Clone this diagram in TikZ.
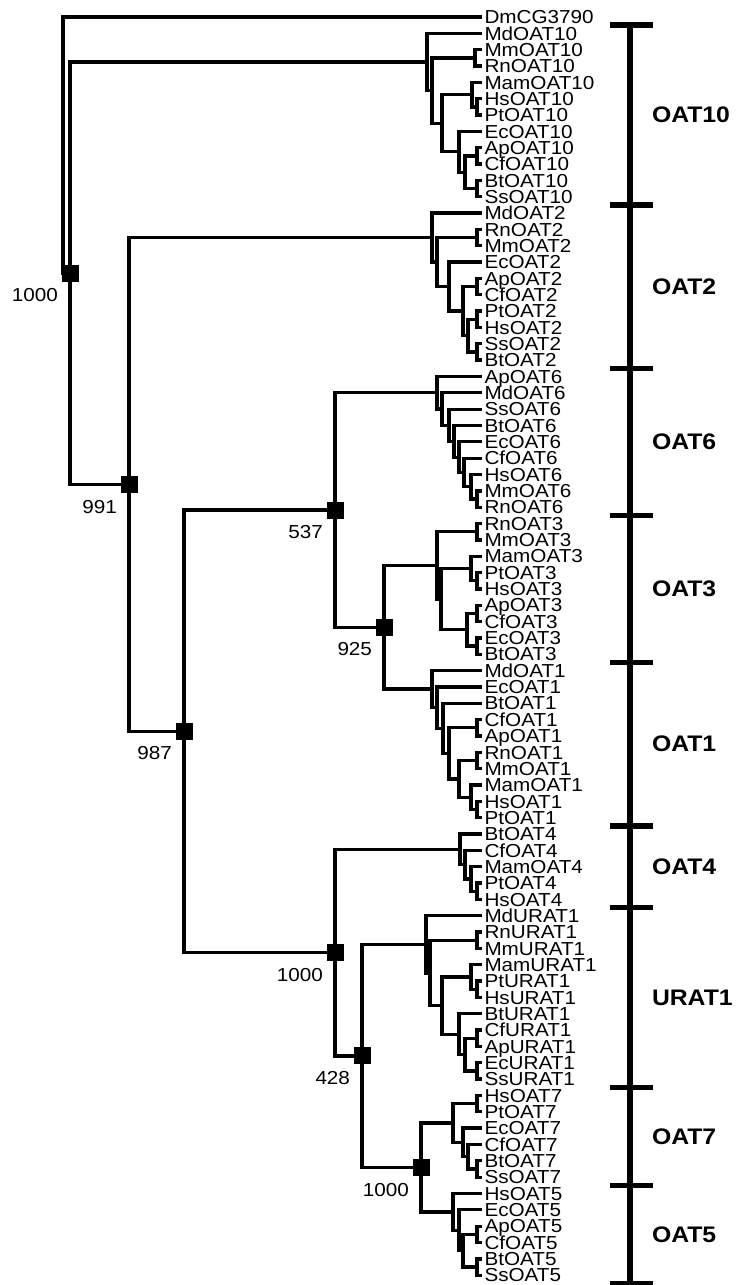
\documentclass[tikz,border=0pt]{standalone}
\usepackage{fontspec}
\setmainfont{Liberation Sans}[FakeStretch=1.1]
\usetikzlibrary{positioning}
\begin{document}
\begin{tikzpicture}[x=1pt, y=-1pt,
        every node/.style={font=\fontsize{18.8}{20}\selectfont, inner sep=0pt, outer sep=0pt},
        ramo/.style={line width=3.3pt},
        folha/.style={anchor=west, inner xsep=2.5pt, text height=13.4pt, text depth=0pt},
        caixa/.style={fill=black, minimum size=17pt},
        suporte/.style={below left=7pt and 3.5pt of #1},
        barra/.style={line width=5.5pt},
        grupo/.style={anchor=west, font=\fontsize{22.5}{24}\selectfont\bfseries}
    ]
    \useasboundingbox (0,0) rectangle (739,1285);

    % Folhas
    \foreach \nome [count=\i from 0] in {DmCG3790,
        MdOAT10, MmOAT10, RnOAT10, MamOAT10, HsOAT10, PtOAT10, EcOAT10, ApOAT10, CfOAT10, BtOAT10, SsOAT10,
        MdOAT2, RnOAT2, MmOAT2, EcOAT2, ApOAT2, CfOAT2, PtOAT2, HsOAT2, SsOAT2, BtOAT2,
        ApOAT6, MdOAT6, SsOAT6, BtOAT6, EcOAT6, CfOAT6, HsOAT6, MmOAT6, RnOAT6,
        RnOAT3, MmOAT3, MamOAT3, PtOAT3, HsOAT3, ApOAT3, CfOAT3, EcOAT3, BtOAT3,
        MdOAT1, EcOAT1, BtOAT1, CfOAT1, ApOAT1, RnOAT1, MmOAT1, MamOAT1, HsOAT1, PtOAT1,
        BtOAT4, CfOAT4, MamOAT4, PtOAT4, HsOAT4,
        MdURAT1, RnURAT1, MmURAT1, MamURAT1, PtURAT1, HsURAT1, BtURAT1, CfURAT1, ApURAT1, EcURAT1, SsURAT1,
        HsOAT7, PtOAT7, EcOAT7, CfOAT7, BtOAT7, SsOAT7,
        HsOAT5, EcOAT5, ApOAT5, CfOAT5, BtOAT5, SsOAT5}
        \node[folha] (\nome) at (482, {17+16.34*\i}) {\nome};

    % Nos internos
    \foreach \n/\x/\y in {root/63/145.1, n1000r/70/273.2, n991/129/484.5, n987/184/731.3,
        n537/335/510.0, n925/384/627.25, n1000a/335/952.6, n428/362/1055.9, n1000b/421/1167.4,
        o10/427/61.9, o10b/432/90.5, o10c/475/57.9, o10d/442/123.2, o10e/472/94.6,
        o10g/477/106.9, o10f/459/151.8, o10h/465/172.2, o10i/477/155.9, o10j/477/188.6,
        o2/432/237.6, o2b/437/262.1, o2c/477/237.6, o2d/449/286.6, o2e/463/311.1,
        o2f/477/286.6, o2g/468/335.6, o2h/477/319.3, o2i/477/352.0,
        o6/437/392.8, o6b/442/409.0, o6c/449/425.3, o6d/454/441.3, o6e/459/457.2,
        o6f/464/472.5, o6g/471/486.8, o6h/477/499.05,
        o3/437/565.4, o3c/477/531.7, o3d/441/599.1, o3e/471/568.5, o3g/477/580.75,
        o3f/467/629.75, o3h/477/613.4, o3i/477/646.1,
        o1/432/689.1, o1b/437/707.6, o1c/443/728.3, o1d/449/753.3, o1e/477/727.8,
        o1f/459/778.85, o1g/477/760.45, o1h/471/797.25, o1i/477/809.5,
        o4/460/849.3, o4b/465/864.6, o4c/471/878.95, o4d/477/891.2,
        ou/426/944.3, oub/430/972.9, ouc/477/940.2, oud/442/1005.6, oue/471/976.98,
        oug/477/989.25, ouf/459/1034.15, ouh/465/1054.6, oui/477/1038.25, ouj/477/1070.95,
        o7/453/1123.0, o7a/477/1103.6, o7b/463/1142.4, o7c/468/1156.7, o7d/477/1168.95,
        o5/453/1211.9, o5b/459/1230.25, o5c/463/1250.7, o5d/477/1234.35, o5e/477/1267.05}
        \coordinate (\n) at (\x,\y);

    % Ramos
    \foreach \p/\f in {root/DmCG3790, root/n1000r, n1000r/o10, n1000r/n991,
        n991/o2, n991/n987, n987/n537, n987/n1000a, n537/o6, n537/n925,
        n925/o3, n925/o1, n1000a/o4, n1000a/n428, n428/ou, n428/n1000b,
        n1000b/o7, n1000b/o5,
        o10/MdOAT10, o10/o10b, o10b/o10c, o10b/o10d, o10c/MmOAT10, o10c/RnOAT10,
        o10d/o10e, o10d/o10f, o10e/MamOAT10, o10e/o10g, o10g/HsOAT10, o10g/PtOAT10,
        o10f/EcOAT10, o10f/o10h, o10h/o10i, o10h/o10j, o10i/ApOAT10, o10i/CfOAT10,
        o10j/BtOAT10, o10j/SsOAT10,
        o2/MdOAT2, o2/o2b, o2b/o2c, o2b/o2d, o2c/RnOAT2, o2c/MmOAT2, o2d/EcOAT2,
        o2d/o2e, o2e/o2f, o2e/o2g, o2f/ApOAT2, o2f/CfOAT2, o2g/o2h, o2g/o2i,
        o2h/PtOAT2, o2h/HsOAT2, o2i/SsOAT2, o2i/BtOAT2,
        o6/ApOAT6, o6/o6b, o6b/MdOAT6, o6b/o6c, o6c/SsOAT6, o6c/o6d, o6d/BtOAT6,
        o6d/o6e, o6e/EcOAT6, o6e/o6f, o6f/CfOAT6, o6f/o6g, o6g/HsOAT6, o6g/o6h,
        o6h/MmOAT6, o6h/RnOAT6,
        o3/o3c, o3/o3d, o3c/RnOAT3, o3c/MmOAT3, o3d/o3e, o3d/o3f, o3e/MamOAT3,
        o3e/o3g, o3g/PtOAT3, o3g/HsOAT3, o3f/o3h, o3f/o3i, o3h/ApOAT3, o3h/CfOAT3,
        o3i/EcOAT3, o3i/BtOAT3,
        o1/MdOAT1, o1/o1b, o1b/EcOAT1, o1b/o1c, o1c/BtOAT1, o1c/o1d, o1d/o1e,
        o1d/o1f, o1e/CfOAT1, o1e/ApOAT1, o1f/o1g, o1f/o1h, o1g/RnOAT1, o1g/MmOAT1,
        o1h/MamOAT1, o1h/o1i, o1i/HsOAT1, o1i/PtOAT1,
        o4/BtOAT4, o4/o4b, o4b/CfOAT4, o4b/o4c, o4c/MamOAT4, o4c/o4d, o4d/PtOAT4,
        o4d/HsOAT4,
        ou/MdURAT1, ou/oub, oub/ouc, oub/oud, ouc/RnURAT1, ouc/MmURAT1, oud/oue,
        oud/ouf, oue/MamURAT1, oue/oug, oug/PtURAT1, oug/HsURAT1, ouf/BtURAT1,
        ouf/ouh, ouh/oui, ouh/ouj, oui/CfURAT1, oui/ApURAT1, ouj/EcURAT1, ouj/SsURAT1,
        o7/o7a, o7/o7b, o7a/HsOAT7, o7a/PtOAT7, o7b/EcOAT7, o7b/o7c, o7c/CfOAT7,
        o7c/o7d, o7d/BtOAT7, o7d/SsOAT7,
        o5/HsOAT5, o5/o5b, o5b/EcOAT5, o5b/o5c, o5c/o5d, o5c/o5e, o5d/ApOAT5,
        o5d/CfOAT5, o5e/BtOAT5, o5e/SsOAT5}
        \draw[ramo] (\p) |- (\f);

    % Valores de bootstrap
    \foreach \n/\t in {n1000r/1000, n991/991, n987/987, n537/537, n925/925,
        n1000a/1000, n428/428, n1000b/1000} {
        \node[caixa] (b\n) at (\n) {};
        \node[suporte=b\n] (s\n) {\t};
    }

    % Barra dos grupos
    \draw[barra] (630,25.17) -- (630,1283.35);
    \foreach \y in {25.17, 204.91, 368.31, 515.37, 662.43, 825.83, 907.53, 1087.27, 1185.31, 1283.35}
        \draw[barra] (610,\y) -- (653,\y);
    \foreach \g/\ya/\yb in {OAT10/25.17/204.91, OAT2/204.91/368.31, OAT6/368.31/515.37,
        OAT3/515.37/662.43, OAT1/662.43/825.83, OAT4/825.83/907.53,
        URAT1/907.53/1087.27, OAT7/1087.27/1185.31, OAT5/1185.31/1283.35}
        \node[grupo] (g\g) at (652, {(\ya+\yb)/2}) {\g};

\end{tikzpicture}
\end{document}
